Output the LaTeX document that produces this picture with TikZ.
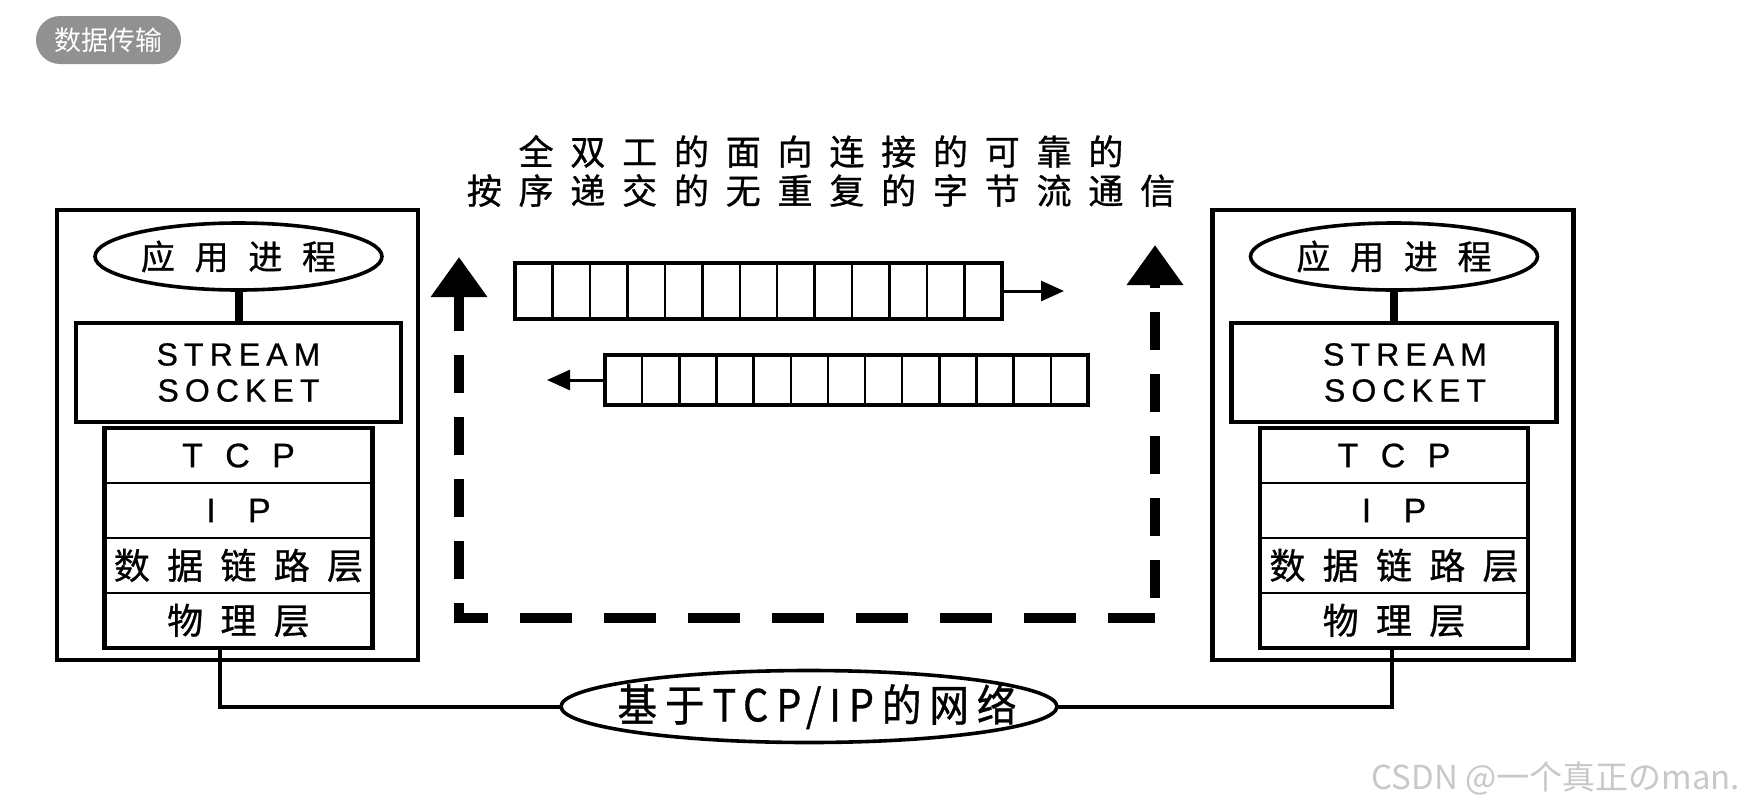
\documentclass[tikz,border=0pt]{standalone}
\usepackage{fontspec}
\usepackage{xcolor}
\usepackage{tikz}
\usetikzlibrary{positioning}
\usetikzlibrary{calc}
\usetikzlibrary{shapes.geometric}
\usetikzlibrary{arrows.meta}
\setmainfont{Noto Sans CJK SC}
\newfontfamily\cjkwide[LetterSpace=48,FakeBold=0.8]{Noto Sans CJK SC}
\newfontfamily\appfont[LetterSpace=58,FakeBold=0.8]{Noto Sans CJK SC}
\newfontfamily\netfont[LetterSpace=18,FakeStretch=0.9,FakeBold=0.8]{Noto Sans CJK SC}
\newfontfamily\latwide[LetterSpace=19,FakeBold=0.6]{Liberation Sans}
\newfontfamily\latwider[LetterSpace=38,FakeBold=0.6]{Liberation Sans}
\definecolor{tagGray}{RGB}{145,145,145}
\definecolor{markGray}{RGB}{200,200,200}

\begin{document}
\begin{tikzpicture}[x=0.5pt, y=-0.5pt, every node/.style={outer sep=0pt},
  host/.style={draw, line width=2.2pt, minimum width=180.5pt, minimum height=225pt},
  app/.style={draw, ellipse, line width=1.8pt, inner sep=0pt, minimum width=143.5pt, minimum height=33.5pt, font=\appfont\fontsize{17}{17}\selectfont},
  sock/.style={draw, line width=2.2pt, minimum width=162.5pt, minimum height=49.5pt, align=center, font=\latwide\fontsize{16}{18}\selectfont},
  layer/.style={draw, line width=1.2pt, minimum width=134pt, minimum height=27.5pt, inner sep=0pt},
  latlayer/.style={layer, font=\latwider\fontsize{17}{17}\selectfont},
  cjklayer/.style={layer, font=\cjkwide\fontsize{18}{18}\selectfont},
  stackline/.style={line width=2.2pt},
  buf/.style={draw, line width=2pt, inner sep=0pt},
  cellline/.style={line width=1.2pt},
  smallarrow/.style={line width=1.5pt, -{Triangle[width=10pt,length=11.5pt]}},
  flow/.style={line width=5pt, line cap=butt},
  bigtip/.style={-{Triangle[width=27pt,length=20pt]}},
  netline/.style={line width=2pt}]
  \fill[white] (0,0) rectangle (1747,810);
  \useasboundingbox (0,0) rectangle (1747,810);

  % tag
  \node[fill=tagGray, rounded corners=12pt, minimum width=72.5pt, minimum height=24pt, inner sep=0pt, text=white, font=\fontsize{13.5}{13.5}\selectfont] (tag) at (108.5,40) {数据传输};

  % left host
  \node[host] (hostL) at (237.5,435) {};
  \node[app] (appL) at (238.5,256.5) {应用进程};
  \node[sock, below=16.5pt of appL] (sockL) {STREAM\\SOCKET};
  \node[latlayer, below=3pt of sockL] (tcpL) {T C P};
  \node[latlayer, below=0pt of tcpL] (ipL) {I\hspace{5pt} P};
  \node[cjklayer, below=0pt of ipL] (dllL) {数据链路层};
  \node[cjklayer, below=0pt of dllL] (phyL) {物理层};
  \draw[stackline] (tcpL.north west) rectangle (phyL.south east);
  \draw[line width=4pt] (appL) -- (sockL);

  % right host
  \node[host] (hostR) at (1393,435) {};
  \node[app] (appR) at (1394,256.5) {应用进程};
  \node[sock, below=16.5pt of appR] (sockR) {\hspace*{11pt}STREAM\\\hspace*{11pt}SOCKET};
  \node[latlayer, below=3pt of sockR] (tcpR) {T C P};
  \node[latlayer, below=0pt of tcpR] (ipR) {I\hspace{5pt} P};
  \node[cjklayer, below=0pt of ipR] (dllR) {数据链路层};
  \node[cjklayer, below=0pt of dllR] (phyR) {物理层};
  \draw[stackline] (tcpR.north west) rectangle (phyR.south east);
  \draw[line width=4pt] (appR) -- (sockR);

  % title
  \node[font=\cjkwide\fontsize{17.5}{19.5}\selectfont, align=center] (title) at (821,171) {全双工的面向连接的可靠的\\按序递交的无重复的字节流通信};

  % byte streams
  \node[buf, minimum width=243.5pt, minimum height=28pt] (bufA) at (758.5,291) {};
  \node[buf, minimum width=241.5pt, minimum height=25pt] (bufB) at (846.5,380) {};
  \foreach \i in {1,...,12} {
    \draw[cellline] ($(bufA.north west)!\i/13!(bufA.north east)$) -- ($(bufA.south west)!\i/13!(bufA.south east)$);
    \draw[cellline] ($(bufB.north west)!\i/13!(bufB.north east)$) -- ($(bufB.south west)!\i/13!(bufB.south east)$);
  }
  \coordinate[right=31pt of bufA.east] (outA);
  \coordinate[left=29pt of bufB.west] (outB);
  \draw[smallarrow] (bufA.east) -- (outA);
  \draw[smallarrow] (bufB.west) -- (outB);

  % dashed path
  \coordinate (cornerL) at (459,618);
  \coordinate (cornerR) at (1155,618);
  \coordinate (tipL) at (459,257);
  \coordinate (tipR) at (1155,245);
  \draw[flow, dash pattern=on 19pt off 12pt, dash phase=9pt, bigtip] ([yshift=-2.5pt]cornerL) -- (tipL);
  \draw[flow, dash pattern=on 26pt off 16pt, dash phase=11.5pt] (cornerL) -- (cornerR);
  \draw[flow, dash pattern=on 19pt off 12pt, dash phase=21pt, bigtip] (cornerR) -- (tipR);

  % network
  \node[draw, ellipse, line width=1.8pt, minimum width=248pt, minimum height=36pt,
    label={[font=\netfont\fontsize{22}{22}\selectfont, xshift=4pt]center:基于TCP/IP的网络}] (net) at (809,706.5) {};
  \draw[netline] ([xshift=-9.5pt]phyL.south) |- (net.west);
  \draw[netline] (net.east) -| ([xshift=-1pt]phyR.south);

  \node[anchor=east, inner sep=0pt, text=markGray, font=\fontsize{16.5}{16.5}\selectfont] (mark) at (1740,778) {CSDN @一个真正のman.};
\end{tikzpicture}
\end{document}
